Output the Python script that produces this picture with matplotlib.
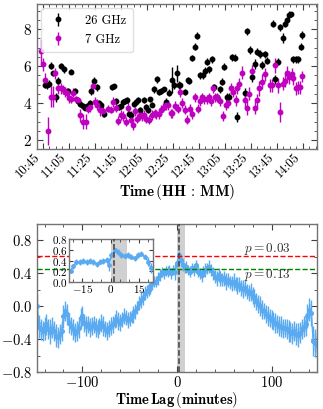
import numpy as np
import matplotlib
matplotlib.use("Agg")
import matplotlib.pyplot as plt
from matplotlib.ticker import MultipleLocator, FuncFormatter

plt.rcParams.update({
    "font.family": "serif",
    "font.serif": ["cmr10"],
    "mathtext.fontset": "cm",
    "axes.formatter.use_mathtext": True,
    "axes.unicode_minus": True,
    "xtick.direction": "in",
    "ytick.direction": "in",
    "xtick.top": True,
    "ytick.right": True,
})

# ---------------- data: light curves (minutes after 10:45) ----------------
t_26 = [2.0, 3.4, 4.8, 6.4, 7.9, 10.0, 12.0, 14.1, 15.9, 18.3,
        19.6, 21.8, 24.4, 27.2, 28.5, 30.5, 32.3, 34.1, 36.2, 37.4,
        39.2, 41.3, 43.1, 45.1, 46.9, 52.9, 54.7, 56.4, 58.2, 60.0,
        62.0, 63.3, 64.7, 66.2, 67.8, 70.0, 71.4, 72.8, 74.8, 77.9,
        79.2, 80.8, 82.2, 83.8, 85.6, 87.7, 89.5, 91.0, 92.8, 94.6,
        97.4, 99.2, 100.8, 103.0, 104.5, 105.7, 109.5, 111.3, 112.6, 114.6,
        116.7, 118.5, 121.0, 123.0, 124.9, 126.0, 128.0, 129.8, 131.8, 133.9,
        135.9, 137.7, 139.7, 141.3, 143.3, 145.4, 147.5, 149.3, 155.6, 156.9,
        159.0, 161.0, 163.0, 165.1, 166.9, 168.7, 170.8, 172.5, 176.7, 178.5,
        180.5, 182.3, 184.4, 186.2, 187.9, 189.4, 190.6, 192.6, 194.4, 196.4,
        198.2, 199.7]
f_26 = [5.00, 4.95, 5.05, 6.02, 5.60, 4.30, 5.19, 6.00, 5.82, 4.60,
        4.65, 5.70, 4.66, 4.10, 3.95, 3.85, 3.75, 3.85, 4.00, 4.65,
        5.20, 4.85, 4.00, 3.90, 3.40, 4.85, 4.90, 4.10, 3.76, 3.82,
        4.05, 4.12, 4.17, 3.40, 3.38, 3.95, 4.07, 4.15, 3.62, 4.16,
        3.80, 3.60, 4.20, 3.92, 4.74, 5.28, 4.60, 4.66, 4.74, 4.08,
        4.56, 5.24, 4.97, 5.60, 4.97, 4.97, 4.60, 5.25, 5.20, 6.44,
        7.05, 7.64, 5.50, 5.50, 5.75, 6.24, 5.83, 6.37, 4.85, 4.30,
        4.74, 5.15, 5.97, 4.34, 4.34, 6.48, 6.45, 3.25, 4.55, 7.87,
        6.87, 5.39, 6.11, 6.78, 6.66, 6.06, 6.64, 6.30, 8.29, 5.28,
        6.24, 8.10, 7.51, 8.29, 8.47, 8.75, 8.79, 6.37, 6.37, 6.37,
        7.05, 7.67]
e_26 = [0.20, 0.18, 0.18, 0.18, 0.15, 0.25, 0.20, 0.15, 0.18, 0.15,
        0.15, 0.15, 0.15, 0.15, 0.15, 0.15, 0.15, 0.15, 0.15, 0.20,
        0.20, 0.20, 0.15, 0.15, 0.15, 0.15, 0.15, 0.15, 0.15, 0.15,
        0.15, 0.15, 0.15, 0.18, 0.18, 0.15, 0.15, 0.15, 0.15, 0.15,
        0.15, 0.15, 0.15, 0.15, 0.18, 0.18, 0.15, 0.15, 0.15, 0.18,
        0.20, 0.70, 0.20, 0.45, 0.20, 0.15, 0.15, 0.18, 0.15, 0.18,
        0.18, 0.20, 0.20, 0.18, 0.18, 0.20, 0.18, 0.18, 0.18, 0.20,
        0.20, 0.20, 0.18, 0.20, 0.20, 0.18, 0.18, 0.25, 0.25, 0.20,
        0.20, 0.25, 0.25, 0.20, 0.20, 0.20, 0.20, 0.20, 0.20, 0.25,
        0.20, 0.20, 0.25, 0.20, 0.20, 0.20, 0.15, 0.20, 0.20, 0.20,
        0.20, 0.20]

t_7 = [-1.5, 0.3, 2.0, 4.1, 6.2, 7.9, 9.7, 11.8, 13.6, 15.6,
       16.9, 18.2, 20.0, 21.3, 23.3, 25.4, 27.2, 28.5, 31.0, 33.1,
       34.9, 36.2, 38.2, 40.0, 41.8, 43.8, 45.9, 50.3, 52.1, 54.1,
       55.9, 57.9, 60.0, 61.8, 63.8, 65.6, 67.7, 69.5, 70.8, 72.6,
       74.6, 76.4, 77.7, 79.7, 81.8, 83.6, 86.2, 87.4, 89.2, 90.8,
       92.6, 94.4, 96.4, 98.2, 99.7, 101.5, 104.1, 105.4, 107.4, 109.2,
       111.0, 113.1, 114.9, 116.9, 119.0, 120.8, 122.6, 123.8, 125.9, 127.9,
       129.7, 131.0, 132.3, 134.1, 136.2, 138.2, 140.5, 142.6, 144.4, 146.4,
       148.2, 149.5, 151.0, 153.3, 155.4, 156.7, 158.7, 161.0, 163.1, 164.4,
       166.4, 168.2, 170.8, 174.6, 176.4, 178.7, 180.5, 182.6, 184.4, 186.2,
       188.0, 189.5, 191.3, 192.6, 194.4, 195.9, 197.7, 199.7]
f_7 = [6.80, 6.10, 5.25, 2.50, 4.35, 4.35, 5.60, 4.80, 4.80, 4.75,
       4.60, 4.55, 4.25, 4.20, 4.55, 4.20, 4.15, 3.35, 3.00, 3.00,
       3.70, 3.80, 4.90, 4.05, 3.90, 3.60, 3.55, 3.70, 3.65, 4.05,
       3.75, 3.05, 3.35, 3.30, 3.00, 3.75, 3.10, 2.80, 3.55, 3.15,
       3.35, 3.30, 3.35, 3.15, 3.10, 3.35, 3.45, 3.40, 3.40, 3.65,
       3.75, 3.90, 3.90, 3.45, 3.45, 3.85, 3.70, 4.60, 4.00, 3.65,
       3.10, 3.70, 3.40, 4.30, 3.70, 4.10, 4.30, 4.20, 4.20, 4.30,
       4.10, 4.80, 4.30, 4.30, 4.10, 3.30, 3.90, 4.00, 4.80, 4.60,
       4.15, 4.80, 5.05, 5.65, 4.15, 3.75, 4.50, 5.75, 3.75, 4.15,
       4.80, 5.15, 5.55, 4.95, 4.95, 6.05, 4.95, 3.50, 5.05, 5.20,
       5.65, 5.40, 5.55, 5.35, 4.80, 4.85, 4.85, 5.45]
e_7 = [0.65, 0.35, 0.40, 0.75, 0.55, 0.55, 0.30, 0.30, 0.30, 0.25,
       0.25, 0.25, 0.25, 0.20, 0.25, 0.20, 0.20, 0.35, 0.40, 0.40,
       0.25, 0.30, 0.40, 0.25, 0.30, 0.30, 0.30, 0.20, 0.20, 0.25,
       0.25, 0.25, 0.25, 0.25, 0.25, 0.30, 0.25, 0.25, 0.25, 0.25,
       0.25, 0.25, 0.25, 0.25, 0.25, 0.25, 0.25, 0.25, 0.25, 0.25,
       0.25, 0.25, 0.25, 0.25, 0.25, 0.25, 0.25, 0.25, 0.25, 0.25,
       0.25, 0.25, 0.25, 0.25, 0.25, 0.25, 0.25, 0.25, 0.25, 0.25,
       0.25, 0.25, 0.25, 0.25, 0.25, 0.25, 0.30, 0.25, 0.30, 0.30,
       0.30, 0.30, 0.30, 0.35, 0.40, 0.40, 0.35, 0.30, 0.35, 0.35,
       0.40, 0.40, 0.35, 0.35, 0.35, 0.40, 0.40, 0.55, 0.35, 0.35,
       0.35, 0.35, 0.35, 0.35, 0.35, 0.35, 0.35, 0.30]

start_minute = 10 * 60 + 45  # 10:45

# ---------------- data: cross-correlation ----------------
lags = list(range(-148, 150, 2))
ccf = [0.00, -0.25, -0.28, -0.30, -0.27, -0.22, -0.28, -0.31, -0.26, -0.30,
       -0.36, -0.38, -0.34, -0.30, -0.12, -0.06, -0.10, -0.20, -0.24, -0.28,
       -0.32, -0.30, -0.26, -0.14,
       -0.12, -0.20, -0.24, -0.22, -0.26, -0.24, -0.22, -0.26, -0.28, -0.24,
       -0.20, -0.24, -0.28, -0.30, -0.27, -0.24, -0.22, -0.18, -0.15, -0.18,
       -0.20, -0.16, -0.12, -0.14, -0.17, -0.15, -0.12, -0.10, -0.06, -0.02,
       0.04, 0.08, 0.10, 0.16, 0.18, 0.20, 0.24, 0.28, 0.30,
       0.30, 0.34, 0.38, 0.42, 0.40, 0.43, 0.42, 0.44, 0.40, 0.44,
       0.42, 0.52, 0.62, 0.56, 0.50, 0.46, 0.48, 0.44, 0.42, 0.46,
       0.44, 0.50, 0.42,
       0.40, 0.38, 0.42, 0.44, 0.46, 0.48, 0.44, 0.40, 0.36, 0.34,
       0.38, 0.34, 0.33, 0.34, 0.30, 0.32, 0.29, 0.28, 0.30, 0.27,
       0.25, 0.26, 0.22, 0.21, 0.22, 0.18, 0.16, 0.17, 0.13, 0.10,
       0.06, 0.03, 0.00, -0.04, -0.06, -0.09, -0.12, -0.14, -0.16, -0.18,
       -0.20, -0.22, -0.24, -0.25, -0.27, -0.26, -0.28, -0.30, -0.31, -0.33,
       -0.30, -0.34, -0.35, -0.32, -0.28, -0.25, -0.22, -0.12, -0.04, -0.08,
       -0.42, -0.45, -0.47]
ccf_err = [0.15, 0.14, 0.13, 0.12, 0.14, 0.13, 0.12, 0.15, 0.13, 0.12,
           0.14, 0.13, 0.12, 0.12, 0.14, 0.12, 0.13, 0.12, 0.11, 0.13,
           0.12, 0.12, 0.13, 0.12,
           0.12, 0.11, 0.12, 0.10, 0.12, 0.11, 0.10, 0.12, 0.11, 0.10,
           0.11, 0.12, 0.10, 0.11, 0.10, 0.11, 0.10, 0.09, 0.10, 0.11,
           0.10, 0.09, 0.10, 0.09, 0.10, 0.09, 0.08, 0.10, 0.09, 0.08,
           0.09, 0.10, 0.08, 0.09, 0.08, 0.08, 0.09, 0.08, 0.07,
           0.07, 0.08, 0.07, 0.06, 0.07, 0.06, 0.07, 0.06, 0.07, 0.06,
           0.10, 0.06, 0.05, 0.06, 0.07, 0.06, 0.07, 0.06, 0.07, 0.06,
           0.07, 0.06, 0.07,
           0.07, 0.08, 0.07, 0.08, 0.07, 0.08, 0.07, 0.08, 0.08, 0.09,
           0.08, 0.09, 0.08, 0.09, 0.10, 0.09, 0.08, 0.09, 0.10, 0.09,
           0.10, 0.09, 0.10, 0.11, 0.10, 0.09, 0.10, 0.11, 0.10, 0.11,
           0.10, 0.11, 0.12, 0.11, 0.10, 0.11, 0.12, 0.11, 0.12, 0.11,
           0.12, 0.11, 0.12, 0.13, 0.12, 0.11, 0.12, 0.13, 0.12, 0.13,
           0.12, 0.13, 0.14, 0.13, 0.12, 0.13, 0.14, 0.15, 0.14, 0.16,
           0.18, 0.17, 0.16]

inset_lags = [-21.0, -19.8, -18.3, -16.0, -14.5, -12.7, -11.0, -9.2, -7.4, -5.6,
              -3.9, -2.1, -0.9, 0.5, 2.3, 4.0, 5.8, 7.6, 9.3, 11.1,
              12.9, 14.6, 16.4, 18.2, 20.0, 21.3]
inset_ccf = [0.21, 0.29, 0.37, 0.37, 0.39, 0.37, 0.39, 0.37, 0.33, 0.38,
             0.39, 0.41, 0.32, 0.50, 0.59, 0.56, 0.50, 0.49, 0.50, 0.47,
             0.44, 0.50, 0.53, 0.47, 0.38, 0.26]
inset_err = [0.05, 0.05, 0.05, 0.05, 0.05, 0.05, 0.05, 0.05, 0.05, 0.05,
             0.05, 0.05, 0.12, 0.05, 0.04, 0.05, 0.05, 0.05, 0.05, 0.05,
             0.05, 0.05, 0.05, 0.05, 0.08, 0.10]

peak_lag = 2.0
lag_window = (0.0, 9.0)
p_levels = [0.61, 0.45]
p_labels = [r"$p = 0.03$", r"$p = 0.13$"]
p_colors = ["red", "green"]

# ---------------- figure ----------------
fig = plt.figure(figsize=(3.23, 4.09), dpi=100)
spine_col = "0.45"

def style(ax):
    for s in ax.spines.values():
        s.set_color(spine_col)
        s.set_linewidth(1.0)
    ax.tick_params(which="major", length=4, width=0.8, color="0.25")
    ax.tick_params(which="minor", length=2, width=0.6, color="0.25")

# top panel
ax1 = fig.add_axes([0.1146, 0.635, 0.8665, 0.355])
ax1.errorbar(t_26, f_26, yerr=e_26, fmt="o", color="black", ms=3.2,
             elinewidth=1.0, capsize=0, label="26 GHz")
ax1.errorbar(t_7, f_7, yerr=e_7, fmt="o", color="m", ms=3.2,
             elinewidth=1.0, capsize=0, label="7 GHz")
ax1.set_xlim(-4.5, 210.8)
ax1.set_ylim(1.5, 9.35)
ax1.xaxis.set_major_locator(MultipleLocator(20))
ax1.xaxis.set_minor_locator(MultipleLocator(5))
ax1.yaxis.set_major_locator(MultipleLocator(2))
ax1.yaxis.set_minor_locator(MultipleLocator(0.5))
ax1.xaxis.set_major_formatter(FuncFormatter(
    lambda m, pos: "%d:%02d" % divmod(int(round(start_minute + m)), 60)))
plt.setp(ax1.get_xticklabels(), rotation=45, ha="right", fontsize=9.2)
ax1.tick_params(axis="y", labelsize=11)
ax1.tick_params(axis="x", pad=1.5)
ax1.set_xlabel(r"$\mathbf{Time\,(HH\,:\,MM)}$", fontsize=11, labelpad=1)
leg = ax1.legend(loc="upper left", fontsize=9, frameon=True, fancybox=True,
                 edgecolor="0.85", borderaxespad=0.35, handletextpad=1.4,
                 borderpad=0.5, labelspacing=0.55, handlelength=1.6)
style(ax1)

# bottom panel
ax2 = fig.add_axes([0.1146, 0.0905, 0.8665, 0.3618])
lags_a = np.array(lags)
ccf_a = np.array(ccf)
err_a = np.array(ccf_err)
band = 0.6 * err_a
ax2.fill_between(lags_a, ccf_a - band, ccf_a + band, color="#a9d3f7",
                 alpha=0.8, lw=0, zorder=1)
ax2.errorbar(lags_a, ccf_a, yerr=err_a, fmt="-o", color="#59aaf0", ms=2.6,
             lw=0.9, elinewidth=1.0, capsize=0, zorder=2)
ax2.axvspan(*lag_window, color="#c8c8c8", alpha=0.85, lw=0, zorder=0)
ax2.axvline(peak_lag, color="0.25", ls="--", lw=1.1, zorder=3)
for lvl, col in zip(p_levels, p_colors):
    ax2.axhline(lvl, color=col, ls="--", lw=1.0, zorder=3)
ax2.text(96, 0.69, p_labels[0], fontsize=9.5, ha="center", va="center",
         color="0.2")
ax2.text(96, 0.38, p_labels[1], fontsize=9.5, ha="center", va="center",
         color="0.2")
ax2.set_xlim(-148, 148)
ax2.set_ylim(-0.8, 1.0)
ax2.xaxis.set_major_locator(MultipleLocator(100))
ax2.xaxis.set_minor_locator(MultipleLocator(20))
ax2.yaxis.set_major_locator(MultipleLocator(0.4))
ax2.yaxis.set_minor_locator(MultipleLocator(0.2))
ax2.tick_params(labelsize=10.5)
ax2.tick_params(axis="x", pad=2.5)
ax2.set_xlabel(r"$\mathbf{Time\,Lag\,(minutes)}$", fontsize=10.5, labelpad=0)
style(ax2)

# inset
axi = fig.add_axes([0.2136, 0.3105, 0.26, 0.105])
axi.axvspan(*lag_window, color="#c8c8c8", alpha=0.85, lw=0, zorder=0)
axi.errorbar(inset_lags, inset_ccf, yerr=inset_err, fmt="-o", color="#59aaf0",
             ms=2.4, lw=1.0, elinewidth=1.0, capsize=0, zorder=2)
axi.axvline(peak_lag, color="0.25", ls="--", lw=1.1, zorder=3)
axi.set_xlim(-22, 22.5)
axi.set_ylim(0, 0.8)
axi.xaxis.set_major_locator(MultipleLocator(15))
axi.xaxis.set_minor_locator(MultipleLocator(5))
axi.yaxis.set_major_locator(MultipleLocator(0.2))
axi.tick_params(labelsize=8, pad=1)
style(axi)
axi.tick_params(which="major", length=3)

fig.savefig("out.png", dpi=100)
